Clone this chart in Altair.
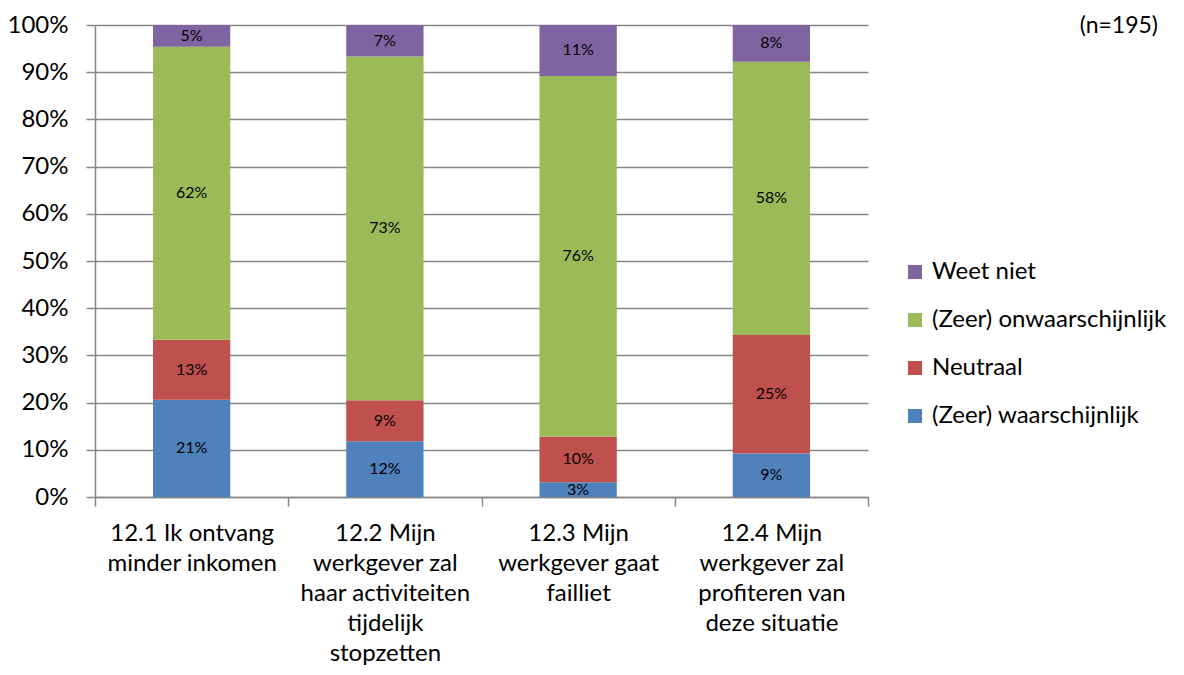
import altair as alt
import pandas as pd

categories = [
    "12.1 Ik ontvang|minder inkomen",
    "12.2 Mijn|werkgever zal|haar activiteiten|tijdelijk|stopzetten",
    "12.3 Mijn|werkgever gaat|failliet",
    "12.4 Mijn|werkgever zal|profiteren van|deze situatie",
]
series = ["(Zeer) waarschijnlijk", "Neutraal", "(Zeer) onwaarschijnlijk", "Weet niet"]
waarschijnlijk = [20.6, 11.8, 3.1, 9.2]
neutraal = [12.7, 8.7, 9.7, 25.1]
onwaarschijnlijk = [62.1, 72.8, 76.4, 57.9]
weet_niet = [4.6, 6.7, 10.8, 7.8]
colors = ["#4F81BD", "#C0504D", "#9BBB59", "#8064A2"]
note = "(n=195)"

FONT = "Lato"
GRID = "#868686"
BIG = 24

values = [waarschijnlijk, neutraal, onwaarschijnlijk, weet_niet]
rows = []
for i, c in enumerate(categories):
    for j, s in enumerate(series):
        rows.append({"cat": c, "series": s, "ord": j, "value": values[j][i]})
df = pd.DataFrame(rows)

legend_domain = series[::-1]
legend_range = colors[::-1]

yscale = alt.Scale(domain=[0, 100], nice=False)
xenc = alt.X(
    "cat:N",
    sort=categories,
    scale=alt.Scale(paddingInner=0, paddingOuter=0),
    axis=alt.Axis(
        title=None, labelAngle=0, labelExpr="split(datum.label, '|')",
        tickBand="extent", tickSize=9, tickColor=GRID, tickWidth=1.5,
        domainColor=GRID, domainWidth=1.5, labelFontSize=BIG, labelFont=FONT,
        labelColor="#000000", labelLineHeight=30, labelPadding=15, labelLimit=400,
    ),
)

base = alt.Chart(df)

bars = base.mark_bar(width=alt.RelativeBandSize(0.4)).encode(
    x=xenc,
    y=alt.Y(
        "value:Q", stack="zero", scale=yscale,
        axis=alt.Axis(
            title=None, values=list(range(0, 101, 10)), labelExpr="datum.value + '%'",
            tickSize=9, tickColor=GRID, tickWidth=1.5, gridColor=GRID, gridWidth=1.5,
            domainColor=GRID, domainWidth=1.5, labelFontSize=BIG, labelFont=FONT,
            labelColor="#000000", labelPadding=18,
        ),
    ),
    color=alt.Color(
        "series:N",
        scale=alt.Scale(domain=legend_domain, range=legend_range),
        legend=alt.Legend(
            title=None, orient="none", legendX=808, legendY=235,
            symbolType="square", symbolSize=196, symbolStrokeWidth=0,
            labelFontSize=BIG, labelFont=FONT, labelColor="#000000",
            rowPadding=24, labelOffset=5, labelLimit=400,
        ),
    ),
    order=alt.Order("ord:Q", sort="ascending"),
)

labels = base.transform_stack(
    stack="value", groupby=["cat"], as_=["y0", "y1"],
    sort=[alt.SortField("ord", order="ascending")],
).transform_calculate(
    mid="(datum.y0 + datum.y1) / 2",
    lbl="format(datum.value, '.0f') + '%'",
).mark_text(font=FONT, fontSize=16, color="#000000", baseline="middle").encode(
    x=alt.X("cat:N", sort=categories),
    y=alt.Y("mid:Q", scale=yscale),
    text="lbl:N",
)

note_layer = alt.Chart(pd.DataFrame({"t": [note]})).mark_text(
    font=FONT, fontSize=23, align="right", baseline="middle", color="#000000"
).encode(x=alt.value(1063), y=alt.value(1), text="t:N")

chart = alt.layer(bars, labels, note_layer).properties(
    width=773, height=472,
    autosize=alt.AutoSizeParams(type="none"),
    padding={"left": 87, "top": 17, "right": 300, "bottom": 170},
).configure_view(stroke=None)

chart.save("out.html", embed_options={"renderer": "svg", "actions": False})
